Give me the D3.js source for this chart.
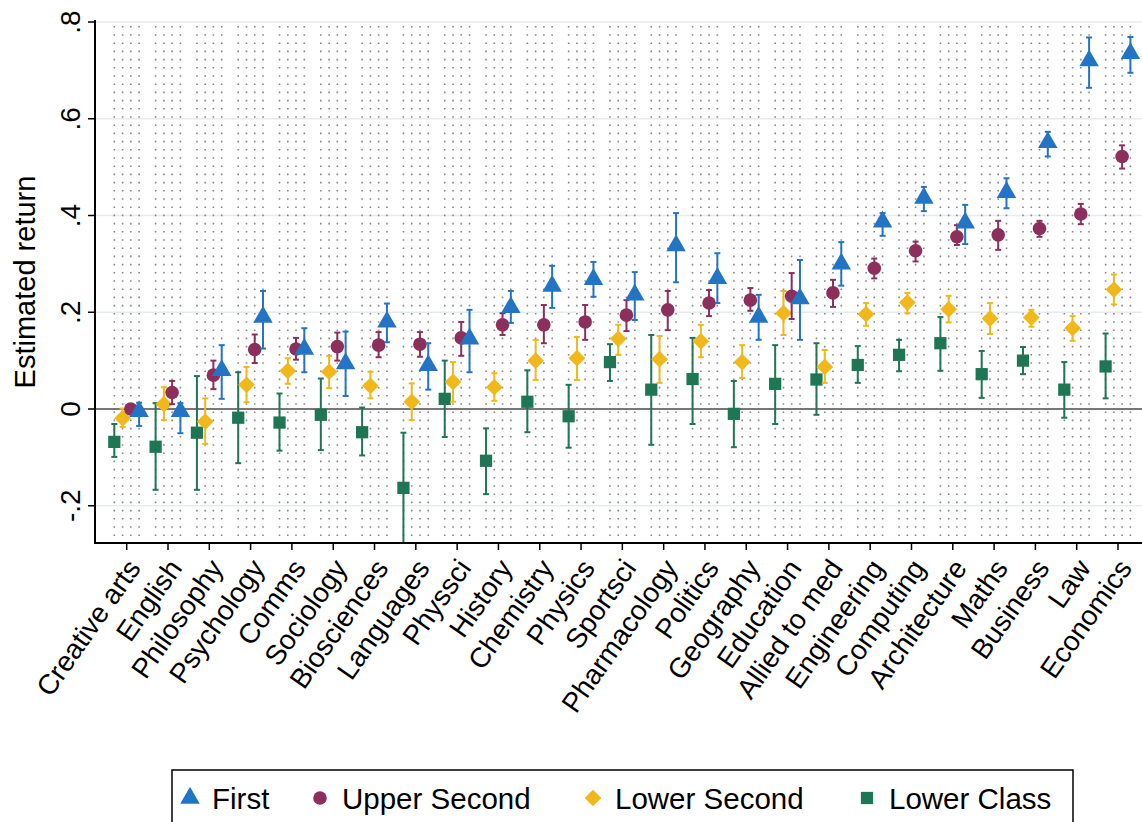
<!DOCTYPE html>
<html><head><meta charset="utf-8">
<script src="https://cdn.jsdelivr.net/npm/d3@7"></script>
<style>body{margin:0;background:#fff}text{font-family:Arial,"Liberation Sans",sans-serif}</style>
</head><body><div id="chart"></div>
<script>
var subjects = ["Creative arts","English","Philosophy","Psychology","Comms","Sociology","Biosciences","Languages","Physsci","History","Chemistry","Physics","Sportsci","Pharmacology","Politics","Geography","Education","Allied to med","Engineering","Computing","Architecture","Maths","Business","Law","Economics"];
var seriesNames = ["First","Upper Second","Lower Second","Lower Class"];

// estimate, lower CI, upper CI
var first = [[-0.005,-0.035,0.013],[-0.005,-0.05,0.012],[0.08,0.021,0.132],[0.19,0.125,0.244],[0.124,0.076,0.167],[0.094,0.027,0.16],[0.18,0.138,0.218],[0.09,0.04,0.136],[0.145,0.076,0.205],[0.21,0.178,0.244],[0.254,0.209,0.296],[0.268,0.232,0.304],[0.236,0.184,0.283],[0.338,0.262,0.405],[0.27,0.219,0.322],[0.19,0.143,0.236],[0.228,0.143,0.308],[0.3,0.255,0.345],[0.387,0.358,0.405],[0.436,0.409,0.459],[0.385,0.341,0.422],[0.448,0.415,0.477],[0.551,0.522,0.573],[0.72,0.664,0.768],[0.735,0.695,0.769]];
var upperSecond = [[0,-0.01,0.01],[0.034,0.01,0.058],[0.07,0.041,0.1],[0.123,0.095,0.154],[0.124,0.102,0.147],[0.129,0.1,0.158],[0.132,0.107,0.159],[0.134,0.108,0.159],[0.147,0.11,0.18],[0.174,0.153,0.198],[0.174,0.136,0.215],[0.18,0.143,0.215],[0.194,0.161,0.225],[0.205,0.163,0.244],[0.219,0.192,0.246],[0.225,0.203,0.25],[0.233,0.186,0.281],[0.24,0.211,0.267],[0.291,0.27,0.311],[0.327,0.305,0.346],[0.356,0.339,0.38],[0.36,0.329,0.389],[0.373,0.356,0.389],[0.403,0.382,0.424],[0.522,0.497,0.545]];
var lowerSecond = [[-0.019,-0.037,0.001],[0.01,-0.023,0.045],[-0.026,-0.072,0.022],[0.05,0.014,0.087],[0.079,0.052,0.105],[0.077,0.043,0.11],[0.048,0.022,0.077],[0.015,-0.023,0.053],[0.056,0.015,0.097],[0.045,0.017,0.074],[0.1,0.06,0.143],[0.105,0.06,0.149],[0.145,0.112,0.174],[0.103,0.054,0.151],[0.14,0.107,0.174],[0.097,0.064,0.132],[0.198,0.153,0.244],[0.087,0.054,0.122],[0.196,0.172,0.219],[0.22,0.198,0.24],[0.206,0.179,0.234],[0.187,0.155,0.219],[0.189,0.17,0.205],[0.167,0.141,0.192],[0.247,0.216,0.278]];
var lowerClass = [[-0.068,-0.099,-0.031],[-0.078,-0.167,0.012],[-0.049,-0.167,0.068],[-0.018,-0.112,0.076],[-0.028,-0.086,0.032],[-0.012,-0.085,0.063],[-0.048,-0.096,0.003],[-0.163,-0.3,-0.049],[0.021,-0.058,0.1],[-0.107,-0.176,-0.04],[0.015,-0.048,0.08],[-0.015,-0.08,0.05],[0.097,0.058,0.134],[0.04,-0.074,0.153],[0.062,-0.031,0.147],[-0.01,-0.079,0.058],[0.052,-0.031,0.132],[0.061,-0.012,0.136],[0.091,0.054,0.13],[0.112,0.078,0.143],[0.136,0.079,0.19],[0.072,0.023,0.12],[0.1,0.072,0.128],[0.04,-0.018,0.097],[0.088,0.022,0.156]];
var yTicks = [-0.2,0,0.2,0.4,0.6,0.8];
var yTickLabels = ["-.2","0",".2",".4",".6",".8"];

var colors = ["#2474c6","#8c2f5d","#f1b81c","#1e7655"];
var symbols = [d3.symbolTriangle, d3.symbolCircle, d3.symbolSquare, d3.symbolSquare];
var symSizes = [165, 145, 140, 150];
var symRot = [0, 0, 45, 0];
var offsets = [12.4, 4.1, -4.1, -12.4];
var allSeries = [first, upperSecond, lowerSecond, lowerClass];

var W = 1142, H = 822, pLeft = 95, pRight = 1142, pTop = 22, pBottom = 543;
var svg = d3.select("#chart").append("svg").attr("width", W).attr("height", H);

var x = d3.scalePoint().domain(subjects).range([126.7, 1118]);
var y = d3.scaleLinear().domain([0, 0.8]).range([409, pTop]);

svg.append("clipPath").attr("id", "plot").append("rect")
    .attr("x", pLeft).attr("y", pTop - 2).attr("width", pRight - pLeft).attr("height", pBottom - pTop + 2);

// horizontal grid
svg.append("g").selectAll("line").data(yTicks).enter().append("line")
    .attr("x1", pLeft).attr("x2", pRight)
    .attr("y1", function (d) { return y(d); }).attr("y2", function (d) { return y(d); })
    .attr("stroke", "#e3ecef").attr("stroke-width", 1.5);

// dotted vertical lines at every marker position
var dotG = svg.append("g").attr("clip-path", "url(#plot)");
subjects.forEach(function (s) {
    offsets.forEach(function (o) {
        dotG.append("line")
            .attr("x1", x(s) + o).attr("x2", x(s) + o)
            .attr("y1", pTop + 4).attr("y2", pBottom)
            .attr("stroke", "#888").attr("stroke-width", 1.6)
            .attr("stroke-dasharray", "1.6,6.6");
    });
});

// zero line
svg.append("line").attr("x1", pLeft).attr("x2", pRight)
    .attr("y1", y(0)).attr("y2", y(0)).attr("stroke", "#777").attr("stroke-width", 2.2);

function marker(g, i, cx, cy) {
    g.append("path")
        .attr("d", d3.symbol().type(symbols[i]).size(symSizes[i])())
        .attr("transform", "translate(" + cx + "," + cy + ") rotate(" + symRot[i] + ")")
        .attr("fill", colors[i]);
}

var marks = svg.append("g").attr("clip-path", "url(#plot)");
[3, 2, 1, 0].forEach(function (i) {
    var ser = allSeries[i];
    var g = marks.append("g");
    ser.forEach(function (d, j) {
        var cx = x(subjects[j]) + offsets[i];
        g.append("line").attr("x1", cx).attr("x2", cx)
            .attr("y1", y(d[1])).attr("y2", y(d[2]))
            .attr("stroke", colors[i]).attr("stroke-width", 2);
        [d[1], d[2]].forEach(function (v) {
            g.append("line").attr("x1", cx - 3).attr("x2", cx + 3)
                .attr("y1", y(v)).attr("y2", y(v))
                .attr("stroke", colors[i]).attr("stroke-width", 2);
        });
        marker(g, i, cx, y(d[0]));
    });
});

// axes
svg.append("line").attr("x1", pLeft).attr("x2", pLeft).attr("y1", pTop - 2).attr("y2", pBottom)
    .attr("stroke", "#000").attr("stroke-width", 2);
svg.append("line").attr("x1", pLeft - 1).attr("x2", pRight).attr("y1", pBottom).attr("y2", pBottom)
    .attr("stroke", "#000").attr("stroke-width", 2);

yTicks.forEach(function (t, k) {
    svg.append("line").attr("x1", pLeft - 7).attr("x2", pLeft).attr("y1", y(t)).attr("y2", y(t))
        .attr("stroke", "#000").attr("stroke-width", 1.5);
    svg.append("text").attr("transform", "translate(" + (pLeft - 15) + "," + y(t) + ") rotate(-90)")
        .attr("text-anchor", "middle").attr("font-size", 28).text(yTickLabels[k]);
});
svg.append("text").attr("transform", "translate(35,282) rotate(-90)")
    .attr("text-anchor", "middle").attr("font-size", 29).text("Estimated return");

subjects.forEach(function (s) {
    svg.append("line").attr("x1", x(s)).attr("x2", x(s)).attr("y1", pBottom).attr("y2", pBottom + 7)
        .attr("stroke", "#000").attr("stroke-width", 1.5);
    svg.append("text").attr("transform", "translate(" + (x(s) - 1) + "," + (pBottom + 14) + ") rotate(-55)")
        .attr("text-anchor", "end").attr("dy", "0.7em").attr("font-size", 28).text(s);
});

// legend
var lg = svg.append("g");
lg.append("rect").attr("x", 172).attr("y", 770).attr("width", 901).attr("height", 60)
    .attr("fill", "#fff").attr("stroke", "#000").attr("stroke-width", 1.5);
var lx = [190, 320, 593, 867];
seriesNames.forEach(function (n, i) {
    marker(lg, i, lx[i], 798);
    lg.append("text").attr("x", lx[i] + 22).attr("y", 809).attr("font-size", 29.5).text(n);
});
</script></body></html>
